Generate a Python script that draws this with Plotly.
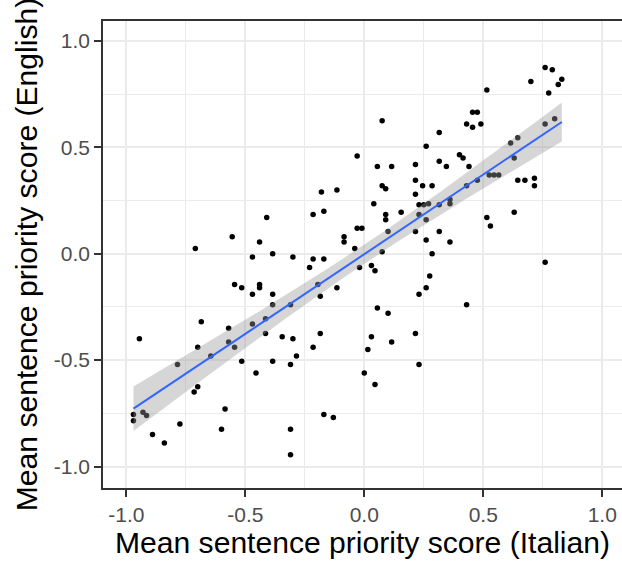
import numpy as np
import plotly.graph_objects as go

# Mean sentence priority scores (x: Italian, y: English)
italian_scores = [
    -0.03, -0.18, -0.115, -0.215, -0.17, -0.41, -0.555, -0.71, -0.44, -0.47,
    -0.385, -0.30, -0.215, -0.17, -0.085, -0.085, -0.03, -0.04,
    0.76, 0.79, 0.83, 0.815, 0.70, 0.775, 0.515, 0.76, 0.80, 0.075,
    0.455, 0.475, 0.43, 0.455, 0.49, 0.315, 0.26, 0.615, 0.645, 0.63,
    0.40, 0.415, 0.055, 0.115, 0.215, 0.315, 0.345, 0.44, 0.525, 0.545,
    0.565, 0.475, 0.645, 0.675, 0.715, 0.715, 0.215, 0.245, 0.285, 0.43,
    0.075, 0.09, 0.215, 0.04, 0.23, 0.25, 0.27, 0.315, 0.36, 0.36,
    0.155, 0.09, 0.09, 0.23, 0.26, 0.63, 0.515, 0.53, -0.01, 0.10,
    0.215, 0.315, 0.26, 0.36, 0.075, 0.285,
    -0.23, -0.02, -0.545, -0.515, -0.44, -0.44, -0.47, -0.385, -0.385, -0.31,
    -0.195, -0.185, -0.115, -0.685, -0.57, -0.57, -0.47, -0.415, -0.415, -0.70,
    -0.545, -0.645, -0.785, -0.945, -0.515, -0.455, -0.385, -0.31, -0.285, -0.345,
    -0.30, -0.185, -0.215, -0.70, -0.715, -0.585, -0.60, -0.775, -0.89, -0.84,
    -0.97, -0.97, -0.93, -0.915, -0.31, -0.31, -0.17, -0.13,
    0.03, 0.045, 0.76, 0.275, 0.26, 0.23, 0.43, 0.055, 0.10, 0.215,
    0.03, 0.115, 0.015, 0.23, 0.0, 0.045,
]
english_scores = [
    0.46, 0.29, 0.30, 0.185, 0.20, 0.17, 0.08, 0.025, 0.055, -0.015,
    0.0, -0.015, -0.025, -0.025, 0.08, 0.055, 0.12, 0.025,
    0.875, 0.865, 0.82, 0.795, 0.81, 0.755, 0.77, 0.61, 0.635, 0.625,
    0.665, 0.665, 0.61, 0.595, 0.61, 0.57, 0.505, 0.52, 0.545, 0.45,
    0.465, 0.45, 0.41, 0.41, 0.42, 0.435, 0.41, 0.41, 0.37, 0.37,
    0.37, 0.345, 0.345, 0.345, 0.355, 0.32, 0.345, 0.32, 0.32, 0.32,
    0.32, 0.305, 0.28, 0.235, 0.23, 0.23, 0.235, 0.23, 0.255, 0.235,
    0.195, 0.185, 0.16, 0.185, 0.16, 0.195, 0.17, 0.13, 0.12, 0.105,
    0.105, 0.105, 0.065, 0.055, 0.01, 0.0,
    -0.065, -0.065, -0.145, -0.16, -0.145, -0.16, -0.19, -0.19, -0.24, -0.24,
    -0.145, -0.20, -0.16, -0.32, -0.35, -0.415, -0.33, -0.305, -0.375, -0.44,
    -0.44, -0.48, -0.52, -0.40, -0.505, -0.56, -0.505, -0.52, -0.48, -0.39,
    -0.40, -0.375, -0.44, -0.625, -0.65, -0.73, -0.825, -0.80, -0.85, -0.89,
    -0.755, -0.785, -0.745, -0.76, -0.825, -0.945, -0.755, -0.77,
    -0.055, -0.08, -0.04, -0.105, -0.16, -0.19, -0.24, -0.255, -0.28, -0.375,
    -0.39, -0.415, -0.45, -0.52, -0.56, -0.615,
]
tick_values = [-1.0, -0.5, 0.0, 0.5, 1.0]
tick_labels = ["-1.0", "-0.5", "0.0", "0.5", "1.0"]

# Linear fit with 95% confidence band (as geom_smooth(method = "lm"))
x = np.array(italian_scores)
y = np.array(english_scores)
n = len(x)
b1, b0 = np.polyfit(x, y, 1)
resid = y - (b0 + b1 * x)
s = np.sqrt(np.sum(resid ** 2) / (n - 2))
xbar = x.mean()
sxx = np.sum((x - xbar) ** 2)
t_crit = 1.976
fit_x = np.linspace(x.min(), x.max(), 80)
fit_y = b0 + b1 * fit_x
se = s * np.sqrt(1.0 / n + (fit_x - xbar) ** 2 / sxx)
upper = fit_y + t_crit * se
lower = fit_y - t_crit * se

fig = go.Figure()
fig.add_trace(go.Scatter(
    x=italian_scores, y=english_scores, mode="markers",
    marker=dict(color="black", size=5.5, line=dict(width=0)),
    showlegend=False, hoverinfo="skip",
))
fig.add_trace(go.Scatter(
    x=np.concatenate([fit_x, fit_x[::-1]]),
    y=np.concatenate([upper, lower[::-1]]),
    fill="toself", fillcolor="rgba(153,153,153,0.4)",
    line=dict(width=0), mode="lines", showlegend=False, hoverinfo="skip",
))
fig.add_trace(go.Scatter(
    x=fit_x, y=fit_y, mode="lines",
    line=dict(color="#3366FF", width=2), showlegend=False, hoverinfo="skip",
))

axis_common = dict(
    tickvals=tick_values, ticktext=tick_labels,
    showgrid=True, gridcolor="#EBEBEB", gridwidth=1.6,
    minor=dict(dtick=0.25, tick0=0, showgrid=True, gridcolor="#EBEBEB", gridwidth=0.8),
    zeroline=False,
    showline=True, linecolor="#333333", linewidth=1.5,
    ticks="outside", ticklen=7, tickwidth=1.5, tickcolor="#333333",
    tickfont=dict(family="Liberation Sans, Arial, sans-serif", size=21, color="#4D4D4D"),
)

fig.update_layout(
    width=622, height=562,
    margin=dict(l=102.6, r=0, t=20.7, b=73.7),
    plot_bgcolor="white", paper_bgcolor="white",
    font=dict(family="Liberation Sans, Arial, sans-serif"),
    xaxis=dict(
        range=[-1.098, 1.083], mirror=True,
        title=dict(text="Mean sentence priority score (Italian)",
                   font=dict(size=30.1, color="black"), standoff=4),
        **axis_common,
    ),
    yaxis=dict(
        range=[-1.101, 1.094], mirror=False,
        title=dict(text="Mean sentence priority score (English)",
                   font=dict(size=30.1, color="black"), standoff=7),
        **axis_common,
    ),
)

fig.write_html("out.html")
